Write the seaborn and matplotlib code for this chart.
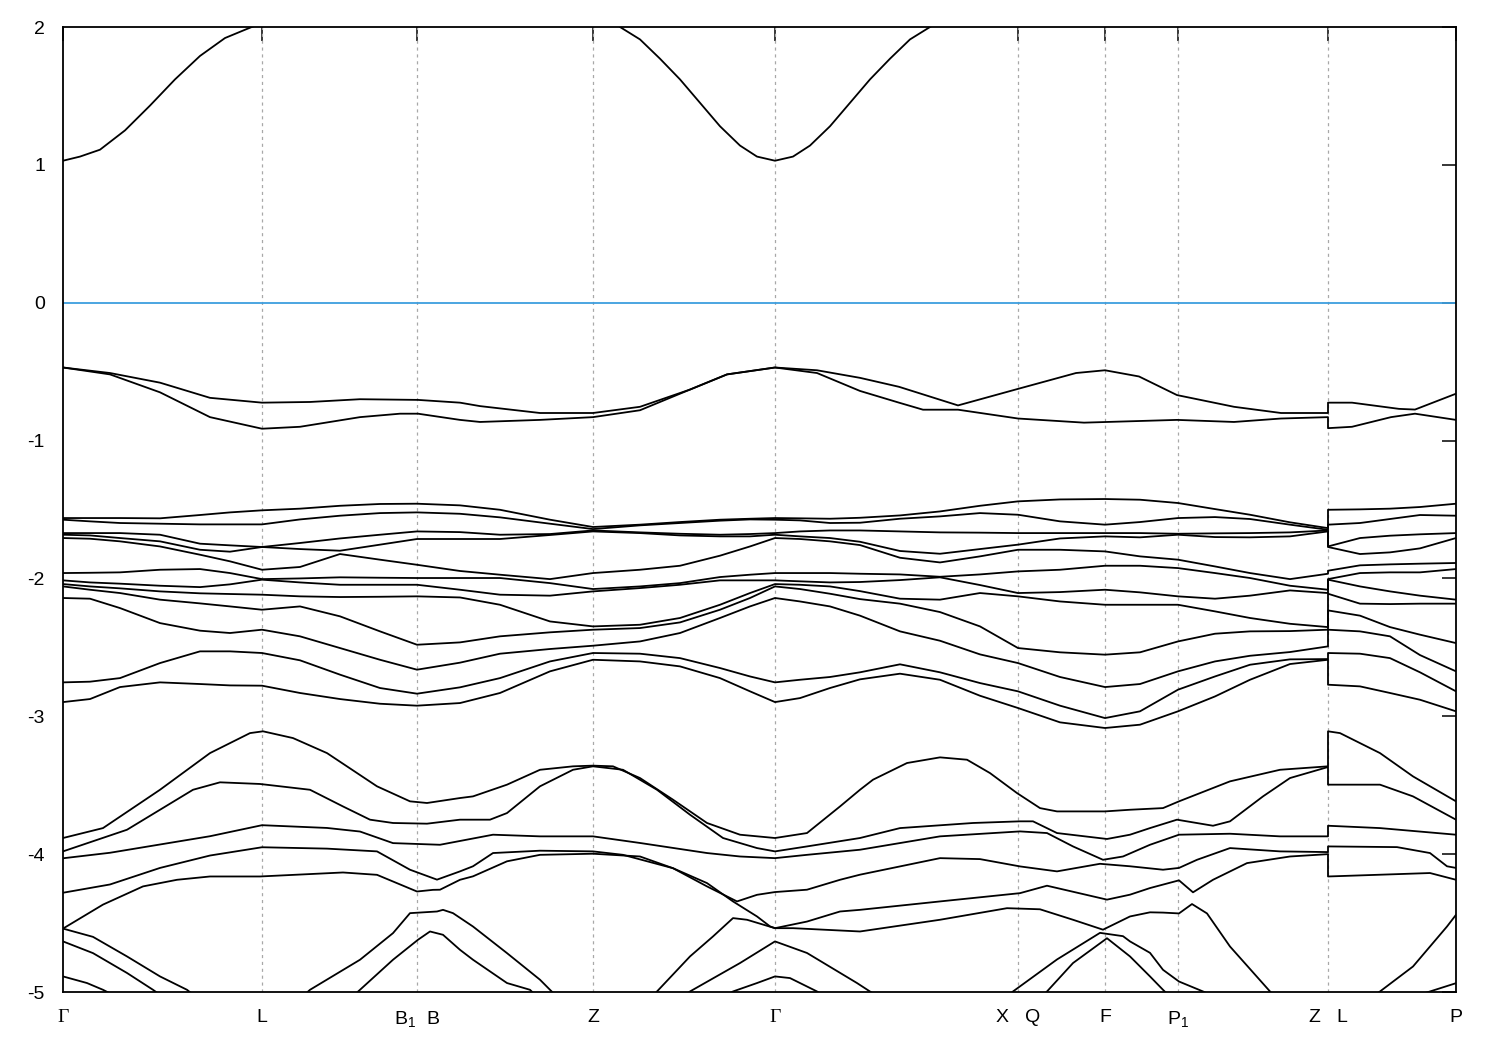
import numpy as np
import pandas as pd
import matplotlib
matplotlib.use("Agg")
import matplotlib.pyplot as plt
import seaborn as sns

# ---------------- data ----------------
# high-symmetry points along the path (path units)
K_SYM = [0, 199, 354, 530, 712, 955, 1042, 1115, 1265, 1393]
K_LABELS = ["Γ", "L", "B$_1$  B", "Z", "Γ", "X   Q", "F", "P$_1$", "Z   L", "P"]
Y_TICKS = [-5, -4, -3, -2, -1, 0, 1, 2]

COND = [(0, 1.03), (17, 1.06), (37, 1.11), (62, 1.25), (87, 1.43), (112, 1.62), (137, 1.79),
        (162, 1.92), (182, 1.98), (199, 2.03), (240, 2.2), (530, 2.2), (557, 2.0), (577, 1.91),
        (597, 1.77), (617, 1.62), (637, 1.45), (657, 1.28), (677, 1.14), (694, 1.06), (712, 1.03),
        (730, 1.06), (747, 1.14), (767, 1.28), (787, 1.45), (807, 1.62), (827, 1.77), (847, 1.91),
        (867, 2.0), (887, 2.1)]

VB1 = [(0, -0.47), (47, -0.51), (97, -0.58), (147, -0.69), (199, -0.725), (247, -0.72), (297, -0.70),
       (355, -0.705), (397, -0.725), (417, -0.75), (477, -0.80), (530, -0.80), (577, -0.755),
       (627, -0.63), (664, -0.52), (712, -0.47), (754, -0.49), (797, -0.545), (836, -0.61),
       (895, -0.745), (955, -0.625), (1013, -0.51), (1042, -0.49), (1076, -0.535), (1114, -0.67),
       (1171, -0.755), (1218, -0.80), (1265, -0.80), (1265, -0.725), (1289, -0.725), (1336, -0.77),
       (1352, -0.775), (1393, -0.66)]
VB2 = [(0, -0.47), (47, -0.52), (97, -0.65), (147, -0.83), (199, -0.914), (237, -0.90), (297, -0.83),
       (337, -0.805), (355, -0.805), (397, -0.85), (417, -0.865), (477, -0.85), (530, -0.83),
       (577, -0.78), (627, -0.63), (664, -0.52), (712, -0.47), (754, -0.51), (797, -0.64),
       (836, -0.725), (860, -0.776), (895, -0.776), (955, -0.84), (1021, -0.87), (1114, -0.85),
       (1171, -0.865), (1218, -0.84), (1265, -0.83), (1265, -0.91), (1289, -0.90), (1328, -0.83),
       (1352, -0.805), (1393, -0.85)]

# dense manifold: k columns and the 12 energies (sorted, high to low) read at each column
G34_K = [0, 27, 57, 97, 137, 167, 199, 237, 277, 317, 354, 397, 437, 487, 530, 577, 617, 657, 687, 712,
         737, 767, 797, 837, 877, 917, 955, 997, 1042, 1077, 1115, 1152, 1187, 1227, 1265, 1265,
         1297, 1327, 1357, 1393]
G34_E = [
    [-1.562, -1.574, -1.671, -1.683, -1.707, -1.961, -2.014, -2.041, -2.058, -2.142, -2.754, -2.897],
    [-1.562, -1.586, -1.671, -1.688, -1.712, -1.959, -2.029, -2.058, -2.082, -2.147, -2.749, -2.875],
    [-1.562, -1.598, -1.671, -1.707, -1.731, -1.956, -2.038, -2.072, -2.106, -2.215, -2.723, -2.788],
    [-1.564, -1.603, -1.683, -1.731, -1.768, -1.937, -2.053, -2.094, -2.154, -2.324, -2.614, -2.754],
    [-1.540, -1.608, -1.748, -1.792, -1.828, -1.932, -2.063, -2.108, -2.181, -2.379, -2.529, -2.766],
    [-1.521, -1.608, -1.760, -1.806, -1.876, -1.961, -2.043, -2.113, -2.203, -2.396, -2.529, -2.776],
    [-1.506, -1.608, -1.772, -1.772, -1.937, -2.005, -2.009, -2.118, -2.227, -2.372, -2.541, -2.778],
    [-1.494, -1.572, -1.743, -1.787, -1.917, -2.000, -2.029, -2.130, -2.203, -2.420, -2.594, -2.831],
    [-1.473, -1.545, -1.710, -1.799, -1.823, -1.992, -2.046, -2.135, -2.275, -2.505, -2.698, -2.875],
    [-1.460, -1.526, -1.683, -1.755, -1.864, -1.995, -2.046, -2.133, -2.384, -2.590, -2.795, -2.909],
    [-1.458, -1.521, -1.659, -1.714, -1.901, -1.997, -2.046, -2.130, -2.481, -2.662, -2.836, -2.923],
    [-1.470, -1.531, -1.664, -1.714, -1.946, -1.997, -2.082, -2.138, -2.464, -2.611, -2.790, -2.904],
    [-1.502, -1.557, -1.683, -1.714, -1.973, -1.997, -2.118, -2.191, -2.420, -2.546, -2.723, -2.831],
    [-1.574, -1.603, -1.678, -1.685, -2.005, -2.034, -2.125, -2.312, -2.391, -2.512, -2.602, -2.674],
    [-1.627, -1.642, -1.652, -1.659, -1.961, -2.077, -2.094, -2.348, -2.372, -2.488, -2.541, -2.590],
    [-1.610, -1.615, -1.666, -1.671, -1.937, -2.058, -2.070, -2.336, -2.360, -2.457, -2.546, -2.602],
    [-1.591, -1.598, -1.676, -1.688, -1.908, -2.034, -2.046, -2.287, -2.319, -2.396, -2.578, -2.638],
    [-1.574, -1.581, -1.683, -1.695, -1.835, -1.990, -2.014, -2.191, -2.227, -2.287, -2.650, -2.723],
    [-1.567, -1.572, -1.678, -1.695, -1.768, -1.973, -2.014, -2.106, -2.142, -2.203, -2.711, -2.819],
    [-1.562, -1.574, -1.671, -1.683, -1.707, -1.961, -2.014, -2.041, -2.058, -2.142, -2.754, -2.897],
    [-1.564, -1.579, -1.659, -1.695, -1.714, -1.961, -2.021, -2.046, -2.077, -2.167, -2.735, -2.868],
    [-1.567, -1.598, -1.652, -1.707, -1.731, -1.961, -2.029, -2.058, -2.111, -2.203, -2.715, -2.795],
    [-1.560, -1.596, -1.652, -1.734, -1.758, -1.966, -2.026, -2.092, -2.150, -2.270, -2.681, -2.732],
    [-1.543, -1.567, -1.659, -1.801, -1.850, -1.971, -2.012, -2.147, -2.183, -2.384, -2.623, -2.691],
    [-1.514, -1.550, -1.666, -1.821, -1.884, -1.988, -1.992, -2.154, -2.244, -2.452, -2.681, -2.735],
    [-1.473, -1.526, -1.668, -1.787, -1.840, -1.971, -2.048, -2.106, -2.348, -2.551, -2.759, -2.851],
    [-1.441, -1.538, -1.671, -1.755, -1.792, -1.949, -2.106, -2.130, -2.505, -2.614, -2.819, -2.940],
    [-1.427, -1.586, -1.671, -1.710, -1.792, -1.937, -2.099, -2.167, -2.536, -2.715, -2.923, -3.044],
    [-1.424, -1.610, -1.671, -1.695, -1.804, -1.908, -2.082, -2.191, -2.553, -2.788, -3.013, -3.085],
    [-1.429, -1.591, -1.671, -1.702, -1.840, -1.908, -2.101, -2.191, -2.536, -2.766, -2.964, -3.061],
    [-1.453, -1.562, -1.676, -1.683, -1.864, -1.925, -2.130, -2.191, -2.457, -2.674, -2.807, -2.964],
    [-1.497, -1.555, -1.673, -1.700, -1.913, -1.961, -2.147, -2.239, -2.401, -2.602, -2.711, -2.856],
    [-1.538, -1.569, -1.671, -1.702, -1.961, -1.997, -2.125, -2.287, -2.384, -2.561, -2.626, -2.735],
    [-1.593, -1.610, -1.666, -1.695, -2.005, -2.053, -2.087, -2.329, -2.382, -2.534, -2.587, -2.621],
    [-1.635, -1.647, -1.652, -1.659, -1.966, -2.082, -2.106, -2.353, -2.372, -2.493, -2.585, -2.590],
    [-1.502, -1.610, -1.768, -1.772, -1.944, -2.005, -2.009, -2.111, -2.232, -2.372, -2.541, -2.771],
    [-1.499, -1.598, -1.707, -1.823, -1.905, -1.961, -2.058, -2.183, -2.270, -2.384, -2.546, -2.783],
    [-1.494, -1.569, -1.690, -1.811, -1.898, -1.956, -2.094, -2.186, -2.353, -2.420, -2.578, -2.831],
    [-1.482, -1.540, -1.680, -1.782, -1.893, -1.956, -2.125, -2.183, -2.408, -2.556, -2.681, -2.880],
    [-1.458, -1.545, -1.671, -1.707, -1.888, -1.932, -2.154, -2.183, -2.469, -2.674, -2.819, -2.964],
]

G5_1 = [(0, -3.883), (40, -3.811), (97, -3.533), (147, -3.267), (187, -3.122), (200, -3.109), (230, -3.158),
        (264, -3.267), (314, -3.508), (347, -3.617), (364, -3.629), (397, -3.593), (410, -3.581),
        (444, -3.496), (477, -3.388), (510, -3.363), (530, -3.358), (550, -3.363), (577, -3.448),
        (610, -3.605), (644, -3.774), (677, -3.859), (712, -3.883), (744, -3.847), (777, -3.654),
        (797, -3.533), (810, -3.46), (844, -3.339), (877, -3.298), (904, -3.315), (927, -3.412),
        (954, -3.557), (977, -3.666), (994, -3.69), (1042, -3.69), (1067, -3.678), (1100, -3.666),
        (1116, -3.617), (1167, -3.472), (1217, -3.388), (1265, -3.363), (1265, -3.109), (1277, -3.122),
        (1317, -3.267), (1350, -3.436), (1393, -3.617)]
G5_2 = [(0, -3.98), (64, -3.823), (97, -3.678), (130, -3.533), (157, -3.479), (197, -3.491), (247, -3.533),
        (280, -3.654), (307, -3.750), (330, -3.774), (364, -3.779), (397, -3.750), (427, -3.750),
        (444, -3.702), (477, -3.508), (510, -3.388), (530, -3.363), (560, -3.388), (594, -3.533),
        (627, -3.714), (660, -3.883), (694, -3.956), (712, -3.980), (744, -3.944), (797, -3.883),
        (837, -3.811), (910, -3.774), (957, -3.762), (970, -3.762), (994, -3.847), (1044, -3.890),
        (1067, -3.859), (1087, -3.811), (1114, -3.750), (1150, -3.794), (1167, -3.762), (1200, -3.581),
        (1227, -3.448), (1265, -3.368), (1265, -3.496), (1317, -3.496), (1350, -3.581), (1393, -3.750)]
G5_3 = [(0, -4.03), (47, -3.99), (97, -3.93), (147, -3.87), (199, -3.79), (264, -3.81), (297, -3.836),
        (330, -3.92), (377, -3.932), (430, -3.859), (477, -3.871), (530, -3.871), (577, -3.919),
        (644, -3.992), (677, -4.017), (712, -4.029), (744, -4.005), (797, -3.968), (877, -3.871),
        (957, -3.835), (984, -3.847), (1010, -3.944), (1040, -4.041), (1060, -4.017), (1087, -3.932),
        (1116, -3.859), (1167, -3.852), (1217, -3.871), (1265, -3.871), (1265, -3.794), (1317, -3.811),
        (1393, -3.859)]
G5_4 = [(0, -4.28), (47, -4.22), (97, -4.10), (147, -4.01), (199, -3.95), (264, -3.96), (314, -3.98),
        (347, -4.113), (374, -4.185), (397, -4.125), (410, -4.088), (430, -3.992), (477, -3.975),
        (530, -3.980), (560, -4.005), (610, -4.102), (644, -4.21), (670, -4.343), (694, -4.452),
        (707, -4.524), (712, -4.537), (730, -4.537), (797, -4.561), (877, -4.476), (944, -4.392),
        (977, -4.40), (1010, -4.476), (1040, -4.548), (1067, -4.452), (1087, -4.422), (1100, -4.424),
        (1116, -4.43), (1129, -4.362), (1144, -4.43), (1167, -4.67), (1207, -4.996), (1217, -5.08)]
G5_5 = [(0, -4.54), (40, -4.366), (80, -4.234), (114, -4.186), (147, -4.162), (197, -4.162), (280, -4.133),
        (314, -4.150), (354, -4.271), (370, -4.259), (377, -4.258), (397, -4.186), (410, -4.161),
        (444, -4.052), (477, -4.005), (530, -3.997), (577, -4.017), (610, -4.102), (644, -4.234),
        (674, -4.343), (694, -4.295), (712, -4.275), (744, -4.258), (777, -4.186), (797, -4.149),
        (877, -4.029), (917, -4.036), (957, -4.089), (994, -4.125), (1037, -4.07), (1067, -4.088),
        (1100, -4.113), (1116, -4.10), (1134, -4.041), (1167, -3.956), (1217, -3.980), (1265, -3.985),
        (1265, -3.944), (1334, -3.949), (1367, -3.992), (1384, -4.088), (1393, -4.10)]
G6_A = [(577, -5.15), (594, -4.996), (627, -4.742), (650, -4.597), (670, -4.464), (684, -4.476),
        (712, -4.537), (744, -4.489), (777, -4.416), (797, -4.404), (877, -4.343), (957, -4.283),
        (984, -4.229), (1044, -4.33), (1067, -4.294), (1087, -4.246), (1116, -4.19), (1130, -4.277),
        (1150, -4.186), (1184, -4.065), (1227, -4.017), (1265, -4.0), (1265, -4.162), (1367, -4.137),
        (1393, -4.186)]
G6_B = [(0, -4.54), (30, -4.60), (64, -4.742), (97, -4.887), (124, -4.984), (132, -5.03)]
G6_C = [(0, -4.633), (30, -4.718), (64, -4.862), (90, -4.984), (97, -5.02)]
G6_D = [(0, -4.887), (24, -4.935), (40, -4.984), (47, -5.01)]
G6_E = [(237, -5.05), (247, -4.984), (297, -4.766), (330, -4.573), (347, -4.428), (374, -4.416),
        (380, -4.404), (390, -4.428), (410, -4.525), (444, -4.718), (477, -4.911), (487, -4.984), (492, -5.02)]
G6_F = [(287, -5.05), (297, -4.984), (330, -4.766), (355, -4.621), (367, -4.561), (380, -4.585),
        (397, -4.694), (410, -4.766), (444, -4.935), (467, -4.984), (472, -5.02)]
G6_G = [(617, -5.05), (627, -4.996), (677, -4.79), (712, -4.633), (744, -4.717), (794, -4.935), (812, -5.02)]
G6_H = [(662, -5.03), (670, -4.996), (694, -4.935), (712, -4.887), (727, -4.899), (754, -4.996), (759, -5.02)]
G6_I = [(942, -5.05), (950, -4.996), (994, -4.764), (1037, -4.571), (1060, -4.595), (1067, -4.633),
        (1087, -4.716), (1100, -4.839), (1116, -4.924), (1140, -4.996), (1147, -5.02)]
G6_J = [(977, -5.05), (984, -4.996), (1010, -4.79), (1044, -4.61), (1067, -4.742), (1087, -4.887),
        (1100, -4.984), (1105, -5.02)]
G6_K = [(1307, -5.05), (1317, -4.996), (1350, -4.815), (1384, -4.525), (1393, -4.44)]
G6_L = [(1357, -5.02), (1367, -4.996), (1393, -4.936)]

# ---------------- assemble ----------------
rows = []
named = {"cond": COND, "vb1": VB1, "vb2": VB2, "g5_1": G5_1, "g5_2": G5_2, "g5_3": G5_3,
         "g5_4": G5_4, "g5_5": G5_5, "g6_a": G6_A, "g6_b": G6_B, "g6_c": G6_C, "g6_d": G6_D,
         "g6_e": G6_E, "g6_f": G6_F, "g6_g": G6_G, "g6_h": G6_H, "g6_i": G6_I, "g6_j": G6_J,
         "g6_k": G6_K, "g6_l": G6_L}
for name, pts in named.items():
    for i, (k, e) in enumerate(pts):
        rows.append((name, i, k, e))
for b in range(12):
    for i, k in enumerate(G34_K):
        rows.append((f"g34_{b}", i, k, G34_E[i][b]))
df = pd.DataFrame(rows, columns=["band", "order", "k", "E"])

sns.set_theme(style="white")
plt.rcParams["font.family"] = ["Liberation Sans", "DejaVu Sans"]
plt.rcParams["mathtext.default"] = "regular"

fig = plt.figure(figsize=(15, 10.5), dpi=100)
ax = fig.add_axes([63 / 1500, 1 - 992 / 1050, (1456 - 63) / 1500, (992 - 27) / 1050])

for k in K_SYM[1:-1]:
    ax.axvline(k, color="#a8a8a8", lw=0.9, ls=(0, (2.5, 3)), zorder=1)
ax.axhline(0, color="#3d9ede", lw=1.3, zorder=2)

sns.lineplot(data=df, x="k", y="E", units="band", estimator=None, sort=False,
             color="black", lw=1.3, legend=False, ax=ax, zorder=3)

ax.set_xlim(K_SYM[0], K_SYM[-1])
ax.set_ylim(-5, 2)
ax.set_xticks(K_SYM)
ax.set_xticklabels(K_LABELS)
ax.set_yticks(Y_TICKS)
ax.set_yticklabels([str(t) for t in Y_TICKS])
for lab in ax.get_xticklabels():
    if lab.get_text() == "Γ":
        lab.set_fontfamily(["Liberation Serif", "DejaVu Serif"])
ax.tick_params(axis="both", direction="in", length=10, width=1.1, top=True, right=True,
               labelsize=14, colors="black")
ax.tick_params(axis="x", pad=12)
ax.tick_params(axis="y", pad=13)
ax.set_xlabel("")
ax.set_ylabel("")
for s in ax.spines.values():
    s.set_linewidth(1.3)
    s.set_color("black")

fig.savefig("out.png", dpi=100, facecolor="white")
